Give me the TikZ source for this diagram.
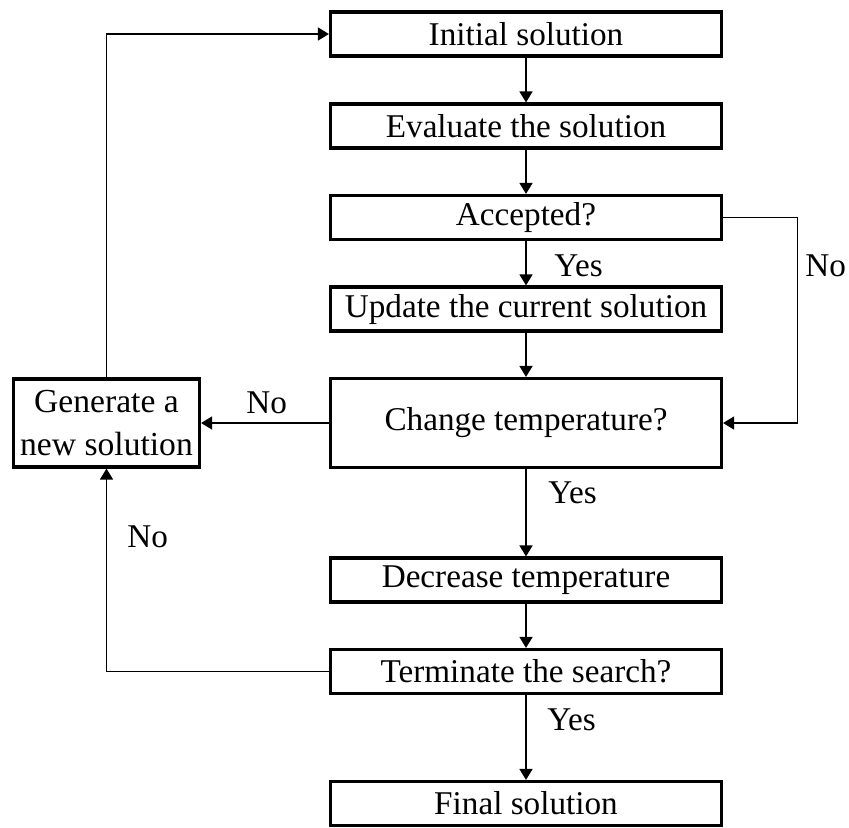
\documentclass[tikz,border=0pt]{standalone}
\usepackage{fontspec}
\setmainfont{Liberation Serif}
\usetikzlibrary{arrows.meta}

\begin{document}
\begin{tikzpicture}[>={Triangle[width=6.5pt,length=5.5pt]}, x=0.5pt, y=-0.5pt,
    box/.style={draw, line width=1.6pt, minimum width=195.5pt, minimum height=22pt,
      inner sep=0pt, font=\fontsize{16.6}{19}\selectfont},
    lbl/.style={inner sep=0pt, font=\fontsize{16.6}{19}\selectfont},
    arr/.style={line width=0.8pt, ->}]
  \useasboundingbox (0,0) rectangle (849,827);
  % main column
  \node[box] (init) at (526,34) {Initial solution};
  \node[box] (eval) at (526,126) {Evaluate the solution};
  \node[box] (acc) at (526,217.5) {Accepted?};
  \node[box] (upd) at (526,309) {Update the current solution};
  \node[box, minimum height=44.5pt] (chg) at (526,423) {Change temperature?};
  \node[box] (dec) at (526,580) {Decrease temperature};
  \node[box] (term) at (526,671.5) {Terminate the search?};
  \node[box] (fin) at (526,803.5) {Final solution};
  % side box
  \node[box, minimum width=93pt, minimum height=44pt, align=center,
    font=\fontsize{16.8}{21.5}\selectfont] (gen) at (106.5,423) {Generate a\\new solution};
  % straight arrows
  \draw[arr] (init) -- (eval);
  \draw[arr] (eval) -- (acc);
  \draw[arr] (acc) -- (upd);
  \draw[arr] (upd) -- (chg);
  \draw[arr] (chg) -- (dec);
  \draw[arr] (dec) -- (term);
  \draw[arr] (term) -- (fin);
  \draw[arr] (chg) -- (gen);
  % loops
  \draw[arr] (acc.east) -- ++(74.5,0) |- (chg.east);
  \draw[arr] (gen.north) |- (init.west);
  \draw[arr] (term.west) -| (gen.south);
  % labels
  \node[lbl, anchor=base west] (yes1) at (554,276) {Yes};
  \node[lbl, anchor=base west] (no1) at (805,276) {No};
  \node[lbl, anchor=base west] (no2) at (246,413) {No};
  \node[lbl, anchor=base west] (yes2) at (548,503) {Yes};
  \node[lbl, anchor=base west] (no3) at (127,547) {No};
  \node[lbl, anchor=base west] (yes3) at (547,730) {Yes};
\end{tikzpicture}
\end{document}
